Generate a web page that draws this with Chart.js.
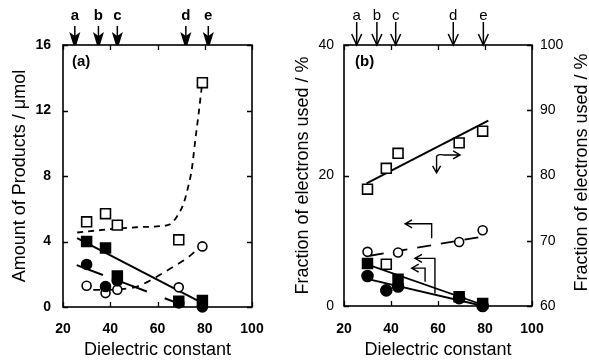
<!DOCTYPE html>
<html><head><meta charset="utf-8">
<script src="https://cdn.jsdelivr.net/npm/chart.js@4.4.0/dist/chart.umd.min.js"></script>
<style>
html,body{margin:0;padding:0;background:#fff;}
#wrap{position:relative;width:589px;height:362px;overflow:hidden;background:#fff;}
.c{position:absolute;top:0;height:362px;}
#ca{left:0;width:290px;}
#cb{left:290px;width:299px;}
</style></head><body>
<div id="wrap">
<div class="c" id="ca"><canvas id="a"></canvas></div>
<div class="c" id="cb"><canvas id="b"></canvas></div>
</div>
<script>
// ---------- data ----------
const dielectric = [30, 38, 43, 69, 79];
const solventLabels = ['a', 'b', 'c', 'd', 'e'];
const solventMarksA = [25, 35, 43, 72, 81.5];
const solventMarksB = [25.4, 34, 42, 66.5, 79.3];

// panel (a): amount of products / umol
const aOpenSquares   = [5.2, 5.7, 5.0, 4.1, 13.7];
const aFilledSquares = [4.0, 3.6, 1.9, 0.35, 0.4];
const aFilledCircles = [2.6, 1.25, 1.6, 0.25, 0.0];
const aOpenCircles   = [1.3, 0.85, 1.05, 1.2, 3.7];
const aSquareCurveX  = [26, 40, 51, 62, 65.3, 68.1, 71, 73, 74.5, 76, 77.4, 78.7];
const aSquareCurveY  = [4.55, 4.75, 4.87, 4.95, 5.05, 5.5, 6.3, 7.35, 8.4, 10.2, 11.8, 13.4];
const aCircleCurveX  = [32.8, 43, 51.2, 59.7, 66.7, 72.4, 76.6, 78.7];
const aCircleCurveY  = [1.04, 1.08, 1.24, 1.85, 2.46, 2.97, 3.48, 3.72];
const aFilledSqLineX = [26, 79.5];
const aFilledSqLineY = [4.2, 0.2];
const aFilledCiLineX = [25.8, 71];
const aFilledCiLineY = [2.56, 0.1];

// panel (b): fraction of electrons used / %
const bOpenSquaresRight = [77.9, 81.1, 83.4, 85.0, 86.8];
const bOpenSquaresLeft  = [null, 6.4, null, null, null];
const bOpenCircles      = [8.3, null, 8.2, 9.8, 11.6];
const bFilledSquares    = [6.5, null, 4.1, 1.4, 0.4];
const bFilledCircles    = [4.6, 2.4, 3.0, 1.2, 0.0];
const bSquareLineX = [29.6, 81.4];
const bSquareLineY = [78.8, 88.4];
const bCircleLineX = [31, 78.5];
const bCircleLineY = [7.7, 10.6];
const bFilledSqLineX = [28, 79.3];
const bFilledSqLineY = [6.6, 0.15];
const bFilledCiLineX = [28, 79.3];
const bFilledCiLineY = [4.3, 0.0];

// axis-indicator arrows in (b), in data units of the left axis
const bPointersLeft = [
  {from: 57.3, to: 46.0, at: 12.6, drop: 10.4},
  {from: 58.7, to: 50.2, at: 7.3, drop: 1.9},
  {from: 54.5, to: 48.8, at: 5.8, drop: 3.7}
];
const bPointerRight = {x: 59.4, top: 23.0, bottom: 20.4, to: 69.4};

const titleA  = 'Amount of Products / μmol';
const titleB  = 'Fraction of electrons used / %';
const titleX  = 'Dielectric constant';

// ---------- helpers ----------
const FONT = "'Liberation Sans', Arial, Helvetica, sans-serif";
const pts = (xs, ys) => xs.map((x, i) => ({x, y: ys[i]})).filter(p => p.y !== null && p.y !== undefined);

function pointSet(data, style, filled, radius, yAxisID) {
  return {
    data, showLine: false, pointStyle: style, pointRadius: radius, pointHoverRadius: radius,
    pointBackgroundColor: filled ? '#000' : '#fff', pointBorderColor: '#000', pointBorderWidth: 1.6,
    clip: false, yAxisID: yAxisID || 'y'
  };
}
function lineSet(data, dash, width, yAxisID, tension) {
  return {
    data, showLine: true, pointRadius: 0, borderColor: '#000', borderWidth: width || 1.8,
    borderDash: dash || [], tension: tension || 0, cubicInterpolationMode: tension ? 'monotone' : 'default',
    clip: false, yAxisID: yAxisID || 'y', fill: false
  };
}

const framePlugin = {
  id: 'frame',
  afterDraw(chart, args, o) {
    const {ctx, chartArea: ca} = chart;
    ctx.save();
    ctx.strokeStyle = '#000';
    ctx.lineWidth = 1.6;
    ctx.strokeRect(ca.left, ca.top, ca.right - ca.left, ca.bottom - ca.top);
    const L = 5;
    ctx.lineWidth = 1.3;
    ctx.beginPath();
    const xs = chart.scales.x;
    xs.ticks.forEach(t => {
      const p = Math.round(xs.getPixelForValue(t.value)) + 0.5;
      ctx.moveTo(p, ca.bottom); ctx.lineTo(p, ca.bottom - L);
      ctx.moveTo(p, ca.top); ctx.lineTo(p, ca.top + L);
    });
    const ys = chart.scales.y;
    ys.ticks.forEach(t => {
      const p = Math.round(ys.getPixelForValue(t.value)) + 0.5;
      ctx.moveTo(ca.left, p); ctx.lineTo(ca.left + L, p);
      if (!chart.scales.y2) { ctx.moveTo(ca.right, p); ctx.lineTo(ca.right - L, p); }
    });
    if (chart.scales.y2) {
      const y2 = chart.scales.y2;
      y2.ticks.forEach(t => {
        const p = Math.round(y2.getPixelForValue(t.value)) + 0.5;
        ctx.moveTo(ca.right, p); ctx.lineTo(ca.right - L, p);
      });
    }
    ctx.stroke();
    // panel tag
    ctx.fillStyle = '#000';
    ctx.font = 'bold 15px ' + FONT;
    ctx.textBaseline = 'middle';
    ctx.textAlign = 'left';
    ctx.fillText(o.tag, ca.left + o.tagDx, ca.top + 17);
    // solvent arrows at the top
    const xsc = chart.scales.x;
    o.marks.forEach((v, i) => {
      const x = xsc.getPixelForValue(v);
      ctx.font = (o.heavy ? 'bold ' : '') + '15px ' + FONT;
      ctx.textAlign = 'center';
      ctx.fillText(solventLabels[i], x, 16);
      ctx.lineWidth = 1.5;
      ctx.beginPath();
      ctx.moveTo(x, o.heavy ? 26 : 22);
      ctx.lineTo(x, ca.top);
      ctx.stroke();
      if (o.heavy) {
        ctx.beginPath();
        ctx.moveTo(x - 5.5, 32); ctx.lineTo(x, 36); ctx.lineTo(x + 5.5, 32);
        ctx.lineTo(x + 1.5, ca.top); ctx.lineTo(x - 1.5, ca.top); ctx.closePath();
        ctx.fill();
      } else {
        ctx.beginPath();
        ctx.moveTo(x - 5, 34); ctx.lineTo(x, ca.top); ctx.lineTo(x + 5, 34);
        ctx.stroke();
      }
    });
    // right-hand axis title, reading bottom-to-top like the left one
    if (o.rightTitle) {
      ctx.save();
      ctx.translate(chart.width - 7, (ca.top + ca.bottom) / 2 - 3);
      ctx.rotate(-Math.PI / 2);
      ctx.font = '18px ' + FONT;
      ctx.textAlign = 'center';
      ctx.textBaseline = 'middle';
      ctx.fillText(o.rightTitle, 0, 0);
      ctx.restore();
    }
    ctx.restore();
  }
};

const pointerPlugin = {
  id: 'pointers',
  afterDatasetsDraw(chart) {
    const {ctx} = chart;
    const xs = chart.scales.x, ys = chart.scales.y;
    ctx.save();
    ctx.strokeStyle = '#000';
    ctx.lineWidth = 1.4;
    bPointersLeft.forEach(p => {
      const x1 = xs.getPixelForValue(p.from), x2 = xs.getPixelForValue(p.to);
      const y = ys.getPixelForValue(p.at), yd = ys.getPixelForValue(p.drop);
      ctx.beginPath();
      ctx.moveTo(x1, yd); ctx.lineTo(x1, y); ctx.lineTo(x2, y);
      ctx.moveTo(x2 + 7, y - 4); ctx.lineTo(x2, y); ctx.lineTo(x2 + 7, y + 4);
      ctx.stroke();
    });
    const r = bPointerRight;
    const x = xs.getPixelForValue(r.x), yt = ys.getPixelForValue(r.top), yb = ys.getPixelForValue(r.bottom);
    const xr = xs.getPixelForValue(r.to);
    ctx.beginPath();
    ctx.moveTo(x, yt); ctx.lineTo(x, yb);
    ctx.moveTo(x - 4, yb - 7); ctx.lineTo(x, yb); ctx.lineTo(x + 4, yb - 7);
    ctx.moveTo(x, yt); ctx.quadraticCurveTo(x + 3, yt - 2, x + 7, yt - 1); ctx.lineTo(xr, yt - 1);
    ctx.moveTo(xr - 7, yt - 5); ctx.lineTo(xr, yt - 1); ctx.lineTo(xr - 7, yt + 3);
    ctx.stroke();
    ctx.restore();
  }
};

function xAxis(height, pad) {
  return {
    type: 'linear', position: 'bottom', min: 20, max: 100,
    ticks: {stepSize: 20, autoSkip: false, maxRotation: 0, padding: pad, color: '#000',
            font: {family: FONT, size: 14, weight: 'bold'}},
    grid: {display: false, drawTicks: false, tickLength: 0},
    border: {display: false},
    title: {display: true, text: titleX, color: '#000',
            font: {family: FONT, size: 18}, padding: {top: 0, bottom: 1}},
    afterFit(s) { s.height = height; }
  };
}

Chart.defaults.animation = false;

// ---------- panel (a) ----------
new Chart(document.getElementById('a'), {
  type: 'scatter',
  data: {
    datasets: [
      pointSet(pts(dielectric, aOpenSquares), 'rect', false, 7),
      pointSet(pts(dielectric, aFilledSquares), 'rect', true, 7),
      pointSet(pts(dielectric, aFilledCircles), 'circle', true, 5),
      pointSet(pts(dielectric, aOpenCircles), 'circle', false, 4.5),
      lineSet(pts(aSquareCurveX, aSquareCurveY), [6, 5], 1.8, 'y', 0.4),
      lineSet(pts(aCircleCurveX, aCircleCurveY), [7, 6], 1.8, 'y', 0.4),
      lineSet(pts(aFilledSqLineX, aFilledSqLineY), [], 2),
      lineSet(pts(aFilledCiLineX, aFilledCiLineY), [28, 19], 2)
    ]
  },
  options: {
    responsive: true, maintainAspectRatio: false, devicePixelRatio: 1,
    layout: {padding: {top: 45, right: 38, left: 0, bottom: 0}},
    plugins: {legend: {display: false}, tooltip: {enabled: false},
              frame: {tag: '(a)', tagDx: 9, marks: solventMarksA, heavy: true}},
    scales: {
      x: xAxis(55, 14),
      y: {
        type: 'linear', position: 'left', min: 0, max: 16,
        ticks: {stepSize: 4, padding: 12, color: '#000', font: {family: FONT, size: 14, weight: 'bold'}},
        grid: {display: false, drawTicks: false, tickLength: 0},
        border: {display: false},
        title: {display: true, text: titleA, color: '#000',
                font: {family: FONT, size: 18}, padding: {top: 9, bottom: 0}},
        afterFit(s) { s.width = 63; }
      }
    }
  },
  plugins: [framePlugin]
});

// ---------- panel (b) ----------
new Chart(document.getElementById('b'), {
  type: 'scatter',
  data: {
    datasets: [
      pointSet(pts(dielectric, bOpenSquaresRight), 'rect', false, 7, 'y2'),
      pointSet(pts(dielectric, bOpenSquaresLeft), 'rect', false, 7),
      pointSet(pts(dielectric, bOpenCircles), 'circle', false, 4.5),
      pointSet(pts(dielectric, bFilledSquares), 'rect', true, 7),
      pointSet(pts(dielectric, bFilledCircles), 'circle', true, 5.5),
      lineSet(pts(bSquareLineX, bSquareLineY), [], 2, 'y2'),
      lineSet(pts(bCircleLineX, bCircleLineY), [14, 10], 1.8),
      lineSet(pts(bFilledSqLineX, bFilledSqLineY), [], 1.8),
      lineSet(pts(bFilledCiLineX, bFilledCiLineY), [], 1.8)
    ]
  },
  options: {
    responsive: true, maintainAspectRatio: false, devicePixelRatio: 1,
    layout: {padding: {top: 45, right: 0, left: 0, bottom: 0}},
    plugins: {legend: {display: false}, tooltip: {enabled: false},
              frame: {tag: '(b)', tagDx: 11, marks: solventMarksB, heavy: false, rightTitle: titleB}},
    scales: {
      x: xAxis(56, 15),
      y: {
        type: 'linear', position: 'left', min: 0, max: 40,
        ticks: {stepSize: 20, padding: 10, color: '#000', font: {family: FONT, size: 14}},
        grid: {display: false, drawTicks: false, tickLength: 0},
        border: {display: false},
        title: {display: true, text: titleB, color: '#000',
                font: {family: FONT, size: 18}, padding: {top: 2, bottom: 0}},
        afterFit(s) { s.width = 54; }
      },
      y2: {
        type: 'linear', position: 'right', min: 60, max: 100,
        ticks: {stepSize: 10, padding: 8, color: '#000', font: {family: FONT, size: 14}},
        grid: {display: false, drawTicks: false, tickLength: 0},
        border: {display: false},
        title: {display: false},
        afterFit(s) { s.width = 57; }
      }
    }
  },
  plugins: [framePlugin, pointerPlugin]
});
</script>
</body></html>
